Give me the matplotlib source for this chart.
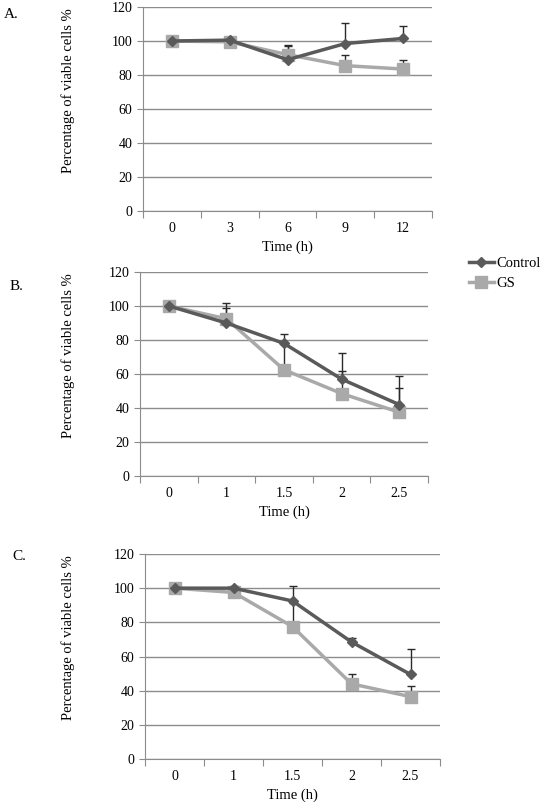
import numpy as np
import matplotlib.pyplot as plt

plt.rcParams['font.family'] = ['Liberation Serif', 'DejaVu Serif']

# Panel A
time_a = ['0', '3', '6', '9', '12']
ctrl_a = [100, 100.5, 89, 98.5, 101.5]
ctrl_a_err = [0, 0, 8.5, 12, 7.5]
gs_a = [100, 99.5, 92, 85.5, 83.5]
gs_a_err = [0, 0, 5, 6, 5.5]

# Panel B
time_b = ['0', '1', '1.5', '2', '2.5']
ctrl_b = [100, 90, 78, 57, 42]
ctrl_b_err = [0, 11.5, 5.5, 15.5, 17]
gs_b = [100, 92.5, 62.5, 48.5, 37.5]
gs_b_err = [0, 6.5, 15, 13, 14.5]

# Panel C
time_c = ['0', '1', '1.5', '2', '2.5']
ctrl_c = [100, 100, 92.5, 68.5, 49.5]
ctrl_c_err = [0, 1.5, 9, 2.5, 15]
gs_c = [100, 97.5, 77.5, 44, 36.5]
gs_c_err = [0, 0, 14, 6, 6]

ctrl_col = '#5a5a5a'
gs_col = '#a9a9a9'
err_col = '#2a2a2a'

W, H = 544, 808
fig = plt.figure(figsize=(W / 100, H / 100), dpi=100)


def panel(rect, cats, c, ce, g, ge, letter, letter_xy):
    l, t, r, b = rect
    ax = fig.add_axes([l / W, 1 - b / H, (r - l) / W, (b - t) / H])
    x = np.arange(len(cats))
    ax.errorbar(x, c, yerr=[np.zeros(len(ce)), ce], fmt='none', ecolor=err_col,
                elinewidth=1, capsize=3, capthick=1, zorder=2)
    ax.errorbar(x, g, yerr=[np.zeros(len(ge)), ge], fmt='none', ecolor=err_col,
                elinewidth=1, capsize=3, capthick=1, zorder=2)
    ax.plot(x, g, color=gs_col, lw=2.5, marker='s', ms=8, zorder=3, label='GS')
    ax.plot(x, c, color=ctrl_col, lw=2.5, marker='D', ms=5.5, zorder=4, label='Control')
    ax.set_xlim(-0.5, len(cats) - 0.5)
    ax.set_ylim(0, 120)
    ax.set_yticks(np.arange(0, 121, 20))
    ax.yaxis.grid(True, color='#8c8c8c', lw=1)
    ax.set_axisbelow(True)
    ax.set_xticks(np.arange(-0.5, len(cats), 1))
    ax.set_xticklabels([])
    ax.set_xticks(x, minor=True)
    ax.set_xticklabels(cats, minor=True)
    ax.tick_params(axis='x', which='major', length=5, color='#8c8c8c')
    ax.tick_params(axis='x', which='minor', length=0, pad=8, labelsize=10)
    ax.tick_params(axis='y', length=4, color='#8c8c8c', labelsize=10)
    for s in ['top', 'right']:
        ax.spines[s].set_visible(False)
    for s in ['left', 'bottom']:
        ax.spines[s].set_color('#8c8c8c')
    ax.set_xlabel('Time (h)', fontsize=10.5, labelpad=4)
    ax.set_ylabel('Percentage of viable cells %', fontsize=10.5)
    ax.yaxis.set_label_coords((75 - l) / (r - l), 0.59)
    fig.text(letter_xy[0] / W, 1 - letter_xy[1] / H, letter, fontsize=11, va='center')
    return ax


ax_a = panel((143, 7, 432, 211), time_a, ctrl_a, ctrl_a_err, gs_a, gs_a_err, 'A.', (4, 15))
ax_b = panel((140, 272, 428, 476), time_b, ctrl_b, ctrl_b_err, gs_b, gs_b_err, 'B.', (10, 287))
ax_c = panel((145, 554, 440, 759), time_c, ctrl_c, ctrl_c_err, gs_c, gs_c_err, 'C.', (12, 556))

handles, labels = ax_a.get_legend_handles_labels()
fig.legend(handles[::-1], labels[::-1], loc='upper left',
           bbox_to_anchor=(469 / W, 1 - 257 / H), frameon=False, fontsize=10.5,
           handlelength=1.7, handletextpad=0.15, labelspacing=0.45, borderaxespad=0,
           borderpad=0)

fig.savefig('out.png', dpi=100)
